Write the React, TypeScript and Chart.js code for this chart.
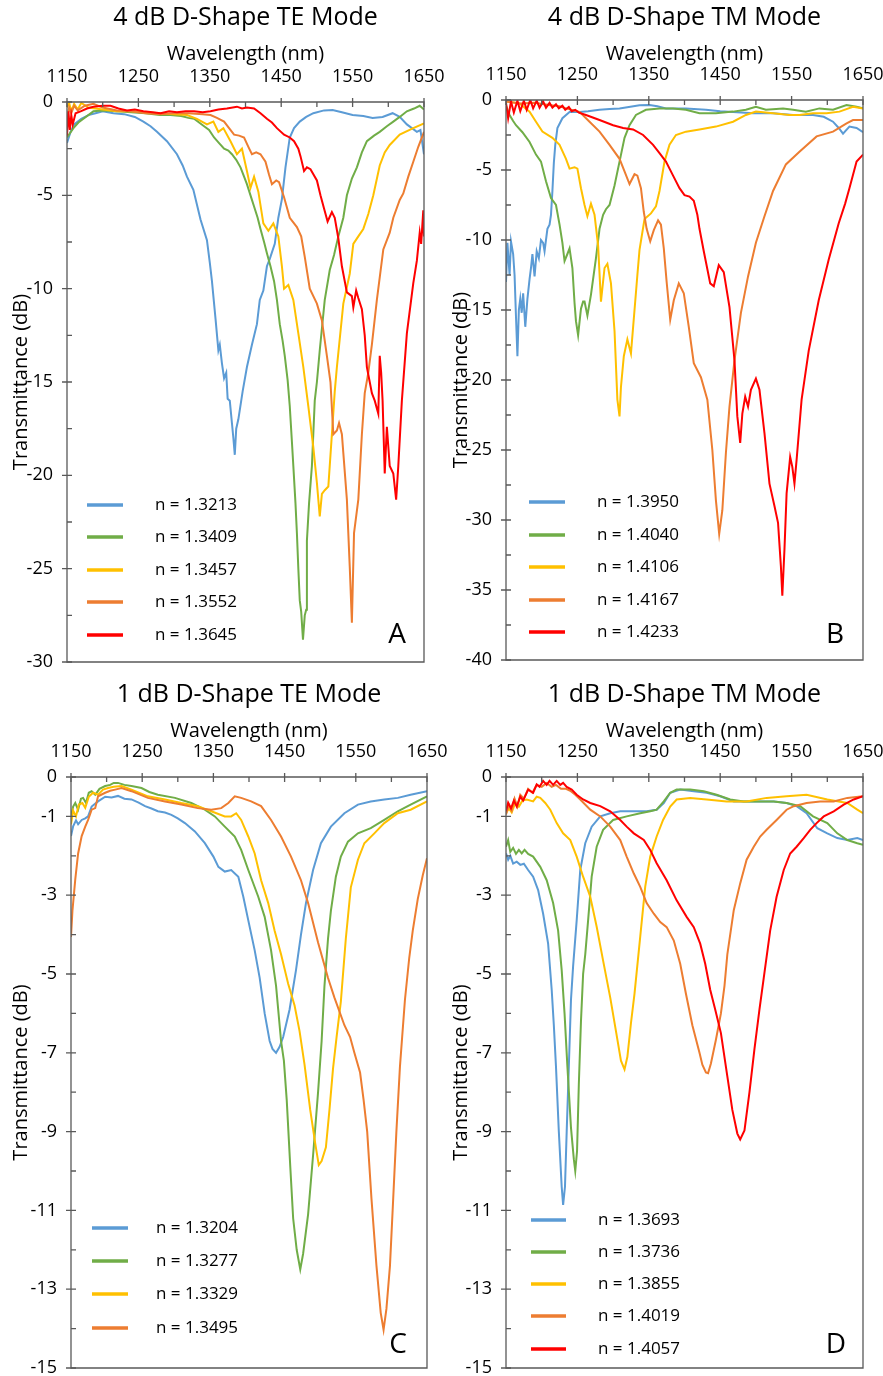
import React, { useEffect, useRef } from 'react';
import { Chart, registerables } from 'chart.js';

Chart.register(...registerables);

const FONT = '"Open Sans", "DejaVu Sans", sans-serif';
const TEXT = '#000000';
const AXIS = '#595959';
const BLUE = '#5B9BD5';
const GREEN = '#70AD47';
const YELLOW = '#FFC000';
const ORANGE = '#ED7D31';
const RED = '#FF0000';

type Pt = [number, number];

// ---------- tick values ----------
const X_TICKS = [1150, 1250, 1350, 1450, 1550, 1650];
const X_MINOR = [1200, 1300, 1400, 1500, 1600];
const Y_TICKS_A = [0, -5, -10, -15, -20, -25, -30];
const Y_MINOR_A = [-2.5, -7.5, -12.5, -17.5, -22.5, -27.5];
const Y_TICKS_B = [0, -5, -10, -15, -20, -25, -30, -35, -40];
const Y_MINOR_B = [-2.5, -7.5, -12.5, -17.5, -22.5, -27.5, -32.5, -37.5];
const Y_TICKS_CD = [0, -1, -3, -5, -7, -9, -11, -13, -15];
const Y_MINOR_CD = [-2, -4, -6, -8, -10, -12, -14];

// ---------- labels ----------
const TITLES = ['4 dB D-Shape TE Mode', '4 dB D-Shape TM Mode', '1 dB D-Shape TE Mode', '1 dB D-Shape TM Mode'];
const LABELS_A = ['n = 1.3213', 'n = 1.3409', 'n = 1.3457', 'n = 1.3552', 'n = 1.3645'];
const LABELS_B = ['n = 1.3950', 'n = 1.4040', 'n = 1.4106', 'n = 1.4167', 'n = 1.4233'];
const LABELS_C = ['n = 1.3204', 'n = 1.3277', 'n = 1.3329', 'n = 1.3495'];
const LABELS_D = ['n = 1.3693', 'n = 1.3736', 'n = 1.3855', 'n = 1.4019', 'n = 1.4057'];

// ---------- Panel A: [wavelength nm, transmittance dB] ----------
const A1: Pt[] = [[1150,-2.2],[1155,-1.6],[1160,-1.2],[1170,-0.9],[1180,-0.7],[1190,-0.6],[1200,-0.5],[1215,-0.6],[1230,-0.65],[1245,-0.8],[1257,-1.05],[1267,-1.3],[1276,-1.6],[1290,-2.1],[1304,-2.8],[1312,-3.4],[1318,-4.0],[1327,-4.7],[1337,-6.3],[1346,-7.4],[1350,-8.6],[1353,-9.6],[1358,-11.6],[1362,-13.3],[1364,-13.0],[1367,-14.0],[1370,-14.8],[1373,-14.5],[1375,-15.9],[1378,-16.0],[1381,-17.2],[1383,-18.0],[1385,-18.9],[1387,-17.5],[1390,-17.0],[1396,-15.5],[1402,-14.2],[1409,-13.0],[1416,-11.9],[1420,-10.6],[1425,-10.1],[1430,-8.8],[1434,-8.4],[1441,-7.6],[1446,-6.2],[1451,-5.2],[1456,-3.5],[1462,-1.9],[1468,-1.4],[1476,-1.05],[1485,-0.8],[1495,-0.6],[1510,-0.45],[1522,-0.43],[1535,-0.55],[1550,-0.7],[1565,-0.75],[1578,-0.86],[1592,-0.8],[1606,-0.6],[1616,-0.8],[1626,-1.2],[1640,-1.6],[1645,-1.5],[1650,-2.8]];
const A2: Pt[] = [[1150,-1.9],[1159,-1.4],[1166,-1.1],[1173,-0.9],[1187,-0.5],[1200,-0.45],[1220,-0.5],[1240,-0.55],[1260,-0.6],[1280,-0.7],[1295,-0.7],[1310,-0.75],[1320,-0.85],[1328,-0.9],[1335,-1.1],[1342,-1.3],[1349,-1.5],[1356,-1.9],[1363,-2.2],[1370,-2.5],[1376,-2.6],[1381,-2.8],[1387,-3.1],[1393,-3.5],[1398,-4.0],[1402,-4.4],[1407,-5.0],[1412,-5.6],[1417,-6.2],[1421,-6.8],[1426,-7.5],[1430,-8.1],[1435,-8.8],[1440,-9.6],[1444,-10.6],[1448,-11.9],[1452,-12.8],[1455,-13.6],[1459,-14.9],[1462,-16.3],[1465,-18.2],[1467,-19.5],[1470,-21.5],[1472,-23.1],[1474,-25],[1476,-26.7],[1478,-27.3],[1480.5,-28.8],[1483,-27.5],[1485,-27.2],[1486,-23.5],[1489,-21.5],[1493,-19.5],[1497,-16],[1500,-15],[1504,-13.3],[1511,-10.6],[1518,-9.0],[1524,-8.2],[1530,-7.2],[1537,-6.2],[1542,-5.0],[1549,-4.1],[1556,-3.5],[1563,-2.7],[1570,-2.1],[1580,-1.8],[1588,-1.6],[1598,-1.3],[1607,-1.05],[1616,-0.8],[1626,-0.5],[1636,-0.35],[1644,-0.2],[1650,-0.4]];
const A3: Pt[] = [[1150,-0.3],[1153,-0.05],[1156,-0.5],[1160,-0.1],[1165,-0.4],[1170,-0.05],[1180,-0.3],[1190,-0.35],[1200,-0.4],[1220,-0.5],[1240,-0.5],[1260,-0.55],[1280,-0.6],[1300,-0.65],[1318,-0.7],[1332,-0.9],[1346,-1.2],[1355,-1.05],[1362,-1.6],[1369,-1.4],[1379,-2.1],[1388,-2.8],[1395,-2.5],[1402,-3.7],[1407,-4.6],[1412,-4.0],[1418,-4.8],[1425,-6.5],[1432,-6.9],[1439,-6.5],[1446,-7.2],[1451,-8.8],[1454,-10],[1460,-9.8],[1467,-10.6],[1474,-12.4],[1481,-14.2],[1488,-16.3],[1495,-18.5],[1500,-20.4],[1504,-22.2],[1507,-21],[1511,-20.8],[1516,-20.6],[1521,-17.8],[1525,-15.5],[1528,-14.2],[1537,-10.8],[1546,-9.2],[1551,-7.6],[1558,-7.2],[1565,-6.8],[1572,-6.0],[1579,-5.0],[1588,-3.4],[1595,-2.7],[1602,-2.3],[1616,-1.75],[1635,-1.4],[1650,-1.15]];
const A4: Pt[] = [[1150,-0.9],[1153,-0.3],[1156,-0.6],[1160,-0.2],[1165,-0.45],[1175,-0.2],[1187,-0.1],[1200,-0.3],[1220,-0.45],[1240,-0.5],[1260,-0.6],[1280,-0.65],[1300,-0.6],[1320,-0.6],[1340,-0.65],[1351,-0.7],[1360,-0.85],[1370,-1.05],[1377,-1.4],[1384,-1.75],[1391,-1.8],[1398,-1.9],[1404,-2.4],[1409,-2.8],[1415,-2.7],[1421,-2.8],[1428,-3.2],[1433,-3.9],[1437,-4.4],[1443,-4.2],[1447,-4.3],[1454,-5.1],[1462,-6.2],[1472,-6.7],[1478,-7.2],[1483,-8.3],[1490,-10],[1500,-10.8],[1507,-11.7],[1514,-13.6],[1519,-15],[1523,-17.8],[1528,-17.6],[1531,-17.2],[1535,-17.8],[1537,-18.8],[1542,-21.3],[1546,-24.9],[1549,-27.9],[1552,-23.1],[1558,-21.3],[1563,-17.8],[1567,-15.6],[1572,-14.5],[1577,-13.0],[1584,-10.6],[1593,-7.9],[1602,-7.0],[1607,-6.2],[1616,-5.25],[1621,-4.9],[1628,-4.0],[1635,-3.2],[1642,-2.4],[1650,-1.6]];
const A5: Pt[] = [[1150,-1.8],[1152,-0.5],[1154,-1.5],[1156,-0.7],[1158,-1.2],[1162,-0.6],[1169,-0.5],[1178,-0.35],[1187,-0.26],[1200,-0.2],[1211,-0.2],[1222,-0.35],[1234,-0.45],[1245,-0.4],[1257,-0.5],[1270,-0.55],[1281,-0.6],[1293,-0.5],[1304,-0.55],[1316,-0.5],[1328,-0.5],[1340,-0.55],[1351,-0.5],[1362,-0.4],[1374,-0.35],[1388,-0.25],[1395,-0.35],[1402,-0.3],[1412,-0.35],[1421,-0.6],[1430,-0.9],[1437,-1.1],[1444,-1.4],[1454,-1.75],[1462,-1.9],[1468,-2.1],[1474,-2.5],[1477,-2.9],[1482,-3.7],[1486,-3.5],[1491,-3.6],[1500,-4.2],[1505,-5.0],[1510,-5.7],[1515,-6.4],[1521,-5.9],[1525,-6.2],[1530,-7.3],[1535,-8.8],[1542,-10.2],[1549,-10.4],[1551,-11.0],[1555,-10.1],[1558,-10.5],[1563,-11.1],[1567,-12.5],[1570,-14.2],[1574,-15.0],[1577,-15.6],[1581,-16],[1586,-16.7],[1588,-13.6],[1590,-14.5],[1592,-16],[1595,-19.9],[1598,-17.4],[1602,-19.5],[1607,-19.9],[1611,-21.3],[1614,-19.5],[1619,-16],[1626,-12.4],[1635,-9.7],[1640,-8.5],[1644,-7.0],[1646,-7.6],[1649,-5.8],[1650,-7.2]];

// ---------- Panel B ----------
const B1: Pt[] = [[1150,-13.0],[1152,-10.2],[1155,-12.5],[1157,-10.1],[1160,-11.0],[1162,-12.5],[1164,-15.5],[1166,-18.3],[1168,-15.0],[1170,-14.2],[1172,-15.2],[1174,-13.8],[1177,-16.2],[1180,-14.2],[1183,-12.8],[1185,-12.0],[1187,-11.0],[1190,-12.6],[1193,-10.8],[1196,-11.3],[1199,-10.0],[1202,-10.2],[1204,-10.8],[1208,-9.2],[1211,-8.9],[1213,-8.2],[1215,-6.5],[1217,-4.5],[1219,-3.2],[1222,-2.0],[1229,-1.3],[1239,-0.85],[1253,-0.85],[1265,-0.8],[1281,-0.7],[1295,-0.65],[1309,-0.6],[1322,-0.5],[1337,-0.38],[1351,-0.36],[1362,-0.45],[1374,-0.6],[1390,-0.6],[1402,-0.6],[1430,-0.7],[1450,-0.8],[1468,-0.85],[1496,-0.95],[1524,-0.95],[1552,-1.07],[1580,-1.07],[1595,-1.2],[1608,-1.55],[1616,-2.0],[1622,-2.4],[1631,-1.9],[1641,-2.0],[1650,-2.3]];
const B2: Pt[] = [[1150,-0.4],[1155,-1.07],[1160,-1.5],[1164,-1.8],[1173,-2.3],[1183,-3.0],[1192,-3.9],[1199,-4.4],[1206,-5.8],[1213,-7.0],[1220,-7.5],[1225,-8.9],[1229,-10.2],[1232,-11.5],[1236,-11.0],[1239,-10.6],[1243,-12],[1246,-14.5],[1248,-15.8],[1251,-16.8],[1255,-14.9],[1258,-14.4],[1260,-14.4],[1264,-15.4],[1269,-13.9],[1276,-11.3],[1281,-9.2],[1286,-8.2],[1290,-7.8],[1295,-7.5],[1302,-6.1],[1309,-4.4],[1316,-2.7],[1323,-1.8],[1332,-1.07],[1346,-0.7],[1365,-0.6],[1384,-0.6],[1402,-0.7],[1421,-0.95],[1444,-0.95],[1468,-0.83],[1486,-0.7],[1500,-0.48],[1514,-0.7],[1538,-0.6],[1552,-0.7],[1570,-0.83],[1589,-0.6],[1608,-0.7],[1627,-0.36],[1641,-0.48],[1650,-0.6]];
const B3: Pt[] = [[1150,-0.1],[1169,-0.24],[1183,-0.83],[1192,-1.55],[1201,-2.26],[1215,-2.7],[1225,-3.2],[1234,-4.2],[1239,-4.9],[1246,-4.8],[1250,-4.9],[1255,-6.3],[1260,-7.5],[1264,-8.3],[1269,-7.4],[1274,-8.2],[1279,-10.4],[1283,-14.4],[1288,-12.0],[1292,-11.7],[1297,-13.1],[1302,-16.5],[1306,-21.4],[1309,-22.6],[1311,-20.5],[1315,-18.3],[1320,-17.1],[1325,-18.1],[1330,-15],[1334,-12.5],[1337,-10.7],[1344,-8.5],[1353,-8.1],[1360,-7.6],[1365,-6.5],[1372,-4.4],[1379,-3.2],[1388,-2.5],[1402,-2.26],[1421,-2.1],[1444,-1.9],[1468,-1.55],[1486,-1.07],[1500,-0.83],[1524,-0.95],[1547,-1.07],[1561,-1.07],[1580,-0.95],[1599,-0.95],[1617,-0.83],[1636,-0.48],[1650,-0.6]];
const B4: Pt[] = [[1150,-0.1],[1170,-0.25],[1190,-0.2],[1210,-0.35],[1225,-0.45],[1234,-0.6],[1253,-0.85],[1267,-1.55],[1281,-2.26],[1295,-3.2],[1309,-4.2],[1316,-5.1],[1323,-6.0],[1330,-5.3],[1334,-5.4],[1339,-6.3],[1343,-8.0],[1347,-9.2],[1352,-10.1],[1357,-9.3],[1363,-8.6],[1367,-8.9],[1371,-10.6],[1375,-13],[1380,-15.7],[1385,-14.3],[1392,-13.1],[1399,-13.8],[1406,-16.2],[1413,-18.8],[1423,-19.8],[1432,-21.4],[1439,-25],[1444,-28.6],[1448.6,-31],[1453,-29.3],[1458,-25.2],[1463,-21.9],[1470,-18.6],[1479,-15.2],[1489,-12.6],[1500,-10.2],[1512,-8.3],[1524,-6.5],[1542,-4.6],[1561,-3.7],[1585,-2.6],[1608,-2.26],[1627,-1.67],[1636,-1.43],[1650,-1.43]];
const B5: Pt[] = [[1150,-0.2],[1153,-1.3],[1157,-0.1],[1161,-0.9],[1166,-0.05],[1170,-0.8],[1175,-0.05],[1179,-0.7],[1184,0],[1188,-0.6],[1193,-0.05],[1197,-0.55],[1202,-0.1],[1206,-0.55],[1211,-0.2],[1215,-0.55],[1220,-0.3],[1224,-0.6],[1229,-0.4],[1233,-0.7],[1238,-0.5],[1242,-0.8],[1247,-0.7],[1252,-0.9],[1262,-1.07],[1281,-1.43],[1300,-1.8],[1314,-2.0],[1328,-2.1],[1342,-2.5],[1356,-3.2],[1365,-3.8],[1374,-4.4],[1384,-5.4],[1393,-6.3],[1400,-6.8],[1407,-6.9],[1413,-7.2],[1418,-8.2],[1421,-9.2],[1427,-10.8],[1436,-13.1],[1441,-13.3],[1448,-11.8],[1455,-12.3],[1463,-14.8],[1470,-18.6],[1474,-22.6],[1478,-24.5],[1481,-22.4],[1485,-21.2],[1489,-21.9],[1493,-20.7],[1500,-19.9],[1505,-20.7],[1512,-23.8],[1519,-27.4],[1526,-29],[1531,-30.2],[1535,-33.3],[1537,-35.4],[1540,-32.1],[1543,-28.1],[1548,-25.5],[1551,-26.2],[1554,-27.4],[1557,-25.7],[1564,-21.4],[1574,-17.9],[1588,-14.3],[1602,-11.4],[1616,-8.8],[1625,-7.4],[1631,-6.3],[1641,-4.4],[1650,-3.9]];

// ---------- Panel C ----------
const C1: Pt[] = [[1150,-1.5],[1153,-1.25],[1157,-1.1],[1160,-1.2],[1165,-1.09],[1170,-1.05],[1174,-1.0],[1179,-0.75],[1188,-0.62],[1198,-0.5],[1207,-0.52],[1216,-0.48],[1225,-0.55],[1235,-0.57],[1245,-0.65],[1254,-0.74],[1263,-0.8],[1272,-0.87],[1282,-0.9],[1291,-0.96],[1300,-1.05],[1310,-1.17],[1324,-1.38],[1338,-1.68],[1350,-2.02],[1357,-2.28],[1366,-2.4],[1375,-2.36],[1385,-2.53],[1392,-3.04],[1399,-3.64],[1408,-4.4],[1415,-5.1],[1422,-6.0],[1429,-6.7],[1433,-6.9],[1438,-7.0],[1443,-6.85],[1448,-6.6],[1457,-5.9],[1466,-4.9],[1473,-4.0],[1480,-3.2],[1490,-2.36],[1501,-1.68],[1515,-1.26],[1534,-0.92],[1553,-0.7],[1571,-0.62],[1590,-0.57],[1609,-0.53],[1627,-0.45],[1650,-0.36]];
const C2: Pt[] = [[1150,-1.0],[1153,-0.75],[1156,-0.66],[1160,-0.83],[1164,-0.55],[1167,-0.53],[1171,-0.66],[1175,-0.4],[1179,-0.36],[1184,-0.45],[1190,-0.3],[1198,-0.23],[1205,-0.2],[1210,-0.15],[1216,-0.15],[1225,-0.2],[1235,-0.23],[1249,-0.28],[1260,-0.38],[1272,-0.45],[1296,-0.53],[1319,-0.66],[1338,-0.83],[1352,-1.0],[1366,-1.26],[1380,-1.51],[1389,-1.85],[1399,-2.36],[1413,-3.04],[1422,-3.55],[1431,-4.4],[1438,-5.3],[1445,-6.7],[1449,-7.2],[1453,-8.2],[1458,-9.9],[1462,-11.2],[1467,-12.0],[1472,-12.5],[1476,-12.1],[1483,-11.1],[1490,-9.6],[1497,-8.0],[1502,-6.7],[1506,-5.3],[1511,-4.1],[1515,-3.4],[1522,-2.53],[1529,-2.02],[1539,-1.64],[1553,-1.43],[1571,-1.3],[1590,-1.09],[1609,-0.87],[1627,-0.7],[1650,-0.49]];
const C3: Pt[] = [[1150,-1.2],[1153,-0.85],[1157,-1.0],[1161,-0.7],[1166,-0.66],[1170,-0.78],[1175,-0.5],[1181,-0.4],[1188,-0.45],[1195,-0.32],[1202,-0.28],[1210,-0.25],[1221,-0.23],[1235,-0.32],[1258,-0.49],[1282,-0.57],[1305,-0.66],[1328,-0.74],[1347,-0.87],[1366,-1.0],[1375,-1.0],[1382,-0.92],[1389,-1.09],[1399,-1.51],[1408,-1.94],[1417,-2.62],[1427,-3.2],[1436,-3.9],[1445,-4.5],[1455,-5.25],[1464,-5.8],[1471,-6.45],[1478,-7.3],[1486,-8.45],[1493,-9.3],[1498,-9.85],[1502,-9.75],[1508,-9.4],[1513,-8.45],[1518,-7.4],[1523,-6.6],[1529,-5.7],[1536,-4.1],[1543,-2.8],[1553,-2.1],[1562,-1.68],[1576,-1.43],[1590,-1.17],[1609,-0.92],[1627,-0.83],[1650,-0.62]];
const C4: Pt[] = [[1150,-4.06],[1152,-3.4],[1156,-2.6],[1160,-1.94],[1165,-1.5],[1170,-1.26],[1174,-1.09],[1179,-0.83],[1184,-0.79],[1188,-0.49],[1198,-0.4],[1205,-0.35],[1212,-0.32],[1221,-0.28],[1235,-0.36],[1258,-0.53],[1282,-0.62],[1305,-0.7],[1328,-0.79],[1347,-0.83],[1361,-0.79],[1371,-0.66],[1380,-0.49],[1389,-0.53],[1403,-0.62],[1417,-0.74],[1431,-1.09],[1445,-1.51],[1459,-2.02],[1473,-2.62],[1483,-3.2],[1497,-4.2],[1511,-5.1],[1520,-5.6],[1534,-6.3],[1542,-6.6],[1548,-7.0],[1556,-7.5],[1561,-8.2],[1566,-9.0],[1572,-10.7],[1579,-12.4],[1585,-13.6],[1589,-14.03],[1593,-13.5],[1598,-12.4],[1602,-10.9],[1607,-9.0],[1612,-7.35],[1619,-5.66],[1625,-4.6],[1630,-3.9],[1637,-3.1],[1644,-2.5],[1650,-2.06]];

// ---------- Panel D ----------
const D1: Pt[] = [[1150,-1.94],[1153,-2.1],[1156,-2.0],[1160,-2.2],[1165,-2.15],[1170,-2.23],[1175,-2.2],[1181,-2.36],[1188,-2.53],[1195,-2.87],[1202,-3.47],[1209,-4.23],[1214,-5.4],[1217,-6.3],[1220,-7.35],[1224,-9.0],[1228,-10.4],[1230,-10.86],[1232.6,-10.4],[1235,-9.0],[1238,-7.35],[1241,-5.66],[1244,-4.8],[1249,-3.64],[1254,-2.36],[1261,-1.68],[1270,-1.26],[1282,-1.0],[1296,-0.92],[1310,-0.87],[1329,-0.87],[1347,-0.87],[1361,-0.83],[1371,-0.66],[1380,-0.4],[1394,-0.32],[1413,-0.36],[1431,-0.4],[1450,-0.49],[1469,-0.62],[1487,-0.62],[1506,-0.62],[1525,-0.62],[1543,-0.66],[1557,-0.74],[1571,-0.92],[1586,-1.3],[1600,-1.43],[1614,-1.55],[1628,-1.6],[1642,-1.55],[1650,-1.6]];
const D2: Pt[] = [[1150,-1.77],[1153,-1.6],[1156,-1.9],[1160,-1.8],[1164,-1.95],[1168,-1.85],[1172,-1.94],[1176,-1.85],[1181,-1.95],[1188,-2.02],[1198,-2.28],[1207,-2.62],[1216,-3.2],[1223,-3.9],[1228,-4.9],[1232,-6.0],[1236,-7.35],[1241,-8.9],[1245,-9.7],[1247,-10.0],[1249.5,-9.5],[1252,-7.8],[1255,-6.2],[1258,-5.0],[1261,-4.5],[1265,-3.64],[1270,-2.53],[1277,-1.77],[1286,-1.34],[1300,-1.09],[1319,-1.0],[1338,-0.92],[1352,-0.87],[1361,-0.83],[1371,-0.62],[1380,-0.4],[1389,-0.32],[1408,-0.32],[1427,-0.36],[1445,-0.45],[1464,-0.57],[1483,-0.62],[1501,-0.62],[1525,-0.62],[1543,-0.66],[1562,-0.74],[1580,-1.0],[1600,-1.17],[1614,-1.43],[1628,-1.6],[1642,-1.68],[1650,-1.72]];
const D3: Pt[] = [[1150,-0.92],[1154,-0.8],[1158,-0.9],[1163,-0.66],[1168,-0.75],[1173,-0.6],[1179,-0.57],[1188,-0.62],[1193,-0.5],[1198,-0.53],[1205,-0.66],[1212,-0.83],[1221,-1.17],[1230,-1.43],[1240,-1.6],[1249,-2.02],[1258,-2.53],[1268,-3.04],[1277,-3.8],[1286,-4.66],[1296,-5.6],[1304,-6.45],[1311,-7.2],[1316,-7.42],[1320,-7.1],[1325,-6.25],[1330,-5.5],[1338,-4.05],[1345,-2.78],[1352,-2.02],[1361,-1.51],[1370,-1.09],[1380,-0.75],[1389,-0.57],[1408,-0.53],[1431,-0.57],[1459,-0.62],[1487,-0.62],[1515,-0.53],[1543,-0.49],[1571,-0.45],[1600,-0.57],[1628,-0.66],[1642,-0.83],[1650,-0.92]];
const D4: Pt[] = [[1150,-0.95],[1154,-0.7],[1158,-0.85],[1162,-0.55],[1166,-0.75],[1170,-0.45],[1175,-0.55],[1181,-0.3],[1187,-0.4],[1193,-0.2],[1200,-0.25],[1207,-0.15],[1214,-0.25],[1220,-0.2],[1227,-0.3],[1234,-0.3],[1240,-0.35],[1247,-0.45],[1254,-0.57],[1268,-0.83],[1282,-1.0],[1296,-1.26],[1310,-1.6],[1319,-2.02],[1329,-2.45],[1338,-2.79],[1347,-3.2],[1357,-3.47],[1366,-3.68],[1375,-3.81],[1385,-4.15],[1394,-4.74],[1402,-5.5],[1411,-6.3],[1421,-7.0],[1425,-7.3],[1430,-7.5],[1433,-7.52],[1437,-7.27],[1444,-6.67],[1451,-6.0],[1456,-5.3],[1460,-4.5],[1469,-3.38],[1478,-2.7],[1487,-2.1],[1497,-1.77],[1506,-1.51],[1515,-1.34],[1529,-1.09],[1543,-0.83],[1553,-0.74],[1571,-0.66],[1590,-0.62],[1609,-0.62],[1628,-0.53],[1650,-0.49]];
const D5: Pt[] = [[1150,-0.87],[1153,-0.65],[1157,-0.8],[1161,-0.6],[1165,-0.75],[1170,-0.5],[1174,-0.6],[1181,-0.32],[1188,-0.4],[1193,-0.19],[1197,-0.25],[1202,-0.1],[1207,-0.2],[1211,-0.1],[1216,-0.2],[1221,-0.1],[1226,-0.2],[1230,-0.15],[1235,-0.25],[1242,-0.32],[1249,-0.45],[1258,-0.57],[1268,-0.66],[1282,-0.74],[1296,-0.87],[1310,-1.09],[1319,-1.26],[1329,-1.43],[1343,-1.6],[1352,-1.85],[1361,-2.19],[1375,-2.62],[1389,-3.13],[1403,-3.55],[1413,-3.81],[1422,-4.23],[1429,-4.74],[1436,-5.4],[1443,-5.9],[1451,-6.5],[1460,-7.6],[1467,-8.45],[1474,-9.05],[1478,-9.2],[1484,-8.97],[1491,-8.0],[1498,-6.9],[1505,-5.9],[1511,-5.1],[1520,-3.9],[1529,-3.04],[1539,-2.36],[1548,-1.94],[1557,-1.77],[1567,-1.55],[1576,-1.34],[1585,-1.17],[1595,-1.0],[1609,-0.87],[1623,-0.7],[1637,-0.57],[1650,-0.49]];

const COLORS = [BLUE, GREEN, YELLOW, ORANGE, RED];

interface Layout {
  left: number; top: number; w: number; h: number;
  cl: number; cr: number; ct: number; cb: number;
  yTitlePad: number;
  lx1: number; lx2: number; tx: number; rows: number[];
  letterX: number; letterY: number;
}
interface Panel {
  title: string; letter: string; yMin: number;
  yTicks: number[]; yMinor: number[];
  labels: string[]; series: Pt[][];
  L: Layout;
}

const PANELS: Panel[] = [
  {
    title: TITLES[0], letter: 'A', yMin: -30, yTicks: Y_TICKS_A, yMinor: Y_MINOR_A,
    labels: LABELS_A, series: [A1, A2, A3, A4, A5],
    L: { left: 0, top: 0, w: 450, h: 680, cl: 67, cr: 424, ct: 102, cb: 662, yTitlePad: 9,
      lx1: 87, lx2: 123, tx: 155, rows: [505, 537, 570, 602, 635], letterX: 406, letterY: 643 },
  },
  {
    title: TITLES[1], letter: 'B', yMin: -40, yTicks: Y_TICKS_B, yMinor: Y_MINOR_B,
    labels: LABELS_B, series: [B1, B2, B3, B4, B5],
    L: { left: 441, top: 0, w: 442, h: 680, cl: 65, cr: 422, ct: 100, cb: 660, yTitlePad: 8,
      lx1: 88, lx2: 124, tx: 156, rows: [502, 535, 567, 600, 632], letterX: 403, letterY: 643 },
  },
  {
    title: TITLES[2], letter: 'C', yMin: -15, yTicks: Y_TICKS_CD, yMinor: Y_MINOR_CD,
    labels: LABELS_C, series: [C1, C2, C3, C4],
    L: { left: 0, top: 677, w: 450, h: 699, cl: 71, cr: 427, ct: 100, cb: 691, yTitlePad: 9,
      lx1: 92, lx2: 128, tx: 156, rows: [551, 584, 617, 651], letterX: 407, letterY: 676 },
  },
  {
    title: TITLES[3], letter: 'D', yMin: -15, yTicks: Y_TICKS_CD, yMinor: Y_MINOR_CD,
    labels: LABELS_D, series: [D1, D2, D3, D4, D5],
    L: { left: 441, top: 677, w: 442, h: 699, cl: 65, cr: 422, ct: 100, cb: 691, yTitlePad: 8,
      lx1: 90, lx2: 125, tx: 157, rows: [543, 575, 607, 639, 672], letterX: 405, letterY: 676 },
  },
];

const TITLE_SIZE = 25;
const TITLE_FONT = { family: FONT, size: TITLE_SIZE, weight: 'normal' as const, lineHeight: 1.2 };
const TITLE_PAD_TOP = 3;
const TITLE_BOX = TITLE_SIZE * 1.2 + TITLE_PAD_TOP;
const AXIS_TITLE_FONT = { family: FONT, size: 20, lineHeight: 1.2 };
const TICK_FONT = { family: FONT, size: 18, lineHeight: 1.2 };

function decorPlugin(p: Panel) {
  return {
    id: 'decor' + p.letter,
    afterDraw(chart: any) {
      const { ctx, chartArea: a, scales } = chart;
      const xs = scales.x;
      const ys = scales.y;
      const L = p.L;
      ctx.save();
      ctx.strokeStyle = AXIS;
      ctx.lineWidth = 1.3;
      ctx.beginPath();
      ctx.rect(a.left, a.top, a.right - a.left, a.bottom - a.top);
      ctx.stroke();
      ctx.beginPath();
      for (const v of X_TICKS) {
        const x = xs.getPixelForValue(v);
        ctx.moveTo(x, a.top - 4); ctx.lineTo(x, a.top + 5);
      }
      for (const v of X_MINOR) {
        const x = xs.getPixelForValue(v);
        ctx.moveTo(x, a.top); ctx.lineTo(x, a.top + 5);
      }
      for (const v of p.yTicks) {
        const y = ys.getPixelForValue(v);
        ctx.moveTo(a.left - 5, y); ctx.lineTo(a.left + 5, y);
      }
      for (const v of p.yMinor) {
        const y = ys.getPixelForValue(v);
        ctx.moveTo(a.left, y); ctx.lineTo(a.left + 5, y);
      }
      ctx.stroke();
      // legend
      ctx.lineWidth = 3.5;
      ctx.lineCap = 'butt';
      ctx.font = `17px ${FONT}`;
      ctx.textBaseline = 'middle';
      ctx.textAlign = 'left';
      p.labels.forEach((lab, i) => {
        const y = L.rows[i];
        ctx.strokeStyle = COLORS[i];
        ctx.beginPath();
        ctx.moveTo(L.lx1, y); ctx.lineTo(L.lx2, y);
        ctx.stroke();
        ctx.fillStyle = TEXT;
        ctx.fillText(lab, L.tx, y);
      });
      ctx.font = `28px ${FONT}`;
      ctx.textAlign = 'right';
      ctx.textBaseline = 'alphabetic';
      ctx.fillStyle = TEXT;
      ctx.fillText(p.letter, L.letterX, L.letterY);
      ctx.restore();
    },
  };
}

function makeConfig(p: Panel): any {
  const L = p.L;
  const n = p.series.length;
  return {
    type: 'line',
    data: {
      datasets: p.series.map((s, i) => ({
        label: p.labels[i],
        data: s.map(([x, y]) => ({ x, y })),
        borderColor: COLORS[i],
        backgroundColor: COLORS[i],
        borderWidth: 2,
        pointRadius: 0,
        tension: 0,
        fill: false,
        order: n - i,
      })),
    },
    options: {
      animation: false,
      responsive: false,
      events: [],
      layout: { padding: { top: 0, left: 0, right: L.w - L.cr, bottom: L.h - L.cb } },
      plugins: {
        legend: { display: false },
        tooltip: { enabled: false },
        title: {
          display: true, text: p.title, fullSize: false, color: TEXT,
          font: TITLE_FONT, padding: { top: TITLE_PAD_TOP, bottom: 0 },
        },
      },
      scales: {
        x: {
          type: 'linear', position: 'top', min: 1150, max: 1650,
          grid: { display: false }, border: { display: false },
          title: {
            display: true, text: 'Wavelength (nm)', color: TEXT,
            font: AXIS_TITLE_FONT, padding: { top: 9, bottom: 0 },
          },
          ticks: {
            autoSkip: false, maxRotation: 0, padding: 6, color: TEXT,
            font: TICK_FONT,
            callback: (v: number) => String(v),
          },
          afterBuildTicks: (s: any) => { s.ticks = X_TICKS.map((v) => ({ value: v })); },
          afterFit: (s: any) => { s.height = L.ct - TITLE_BOX; s.paddingLeft = 0; s.paddingRight = 0; },
        },
        y: {
          type: 'linear', position: 'left', min: p.yMin, max: 0,
          grid: { display: false }, border: { display: false },
          title: {
            display: true, text: 'Transmittance (dB)', color: TEXT,
            font: AXIS_TITLE_FONT, padding: { top: L.yTitlePad, bottom: 0 },
          },
          ticks: {
            autoSkip: false, padding: 6, color: TEXT,
            font: TICK_FONT,
            callback: (v: number) => String(v),
          },
          afterBuildTicks: (s: any) => { s.ticks = p.yTicks.map((v) => ({ value: v })); },
          afterFit: (s: any) => { s.width = L.cl; s.paddingTop = 0; s.paddingBottom = 0; },
        },
      },
    },
    plugins: [decorPlugin(p)],
  };
}

function PanelChart({ p }: { p: Panel }) {
  const ref = useRef<HTMLCanvasElement | null>(null);
  useEffect(() => {
    if (!ref.current) return;
    const chart = new Chart(ref.current, makeConfig(p));
    return () => chart.destroy();
  }, [p]);
  const L = p.L;
  return (
    <canvas
      ref={ref}
      width={L.w}
      height={L.h}
      style={{ position: 'absolute', left: L.left, top: L.top, width: L.w, height: L.h }}
    />
  );
}

export default function App() {
  return (
    <div style={{ position: 'absolute', left: 0, top: 0, width: 883, height: 1376, background: '#ffffff', overflow: 'hidden' }}>
      {PANELS.map((p) => (
        <PanelChart key={p.letter} p={p} />
      ))}
    </div>
  );
}
